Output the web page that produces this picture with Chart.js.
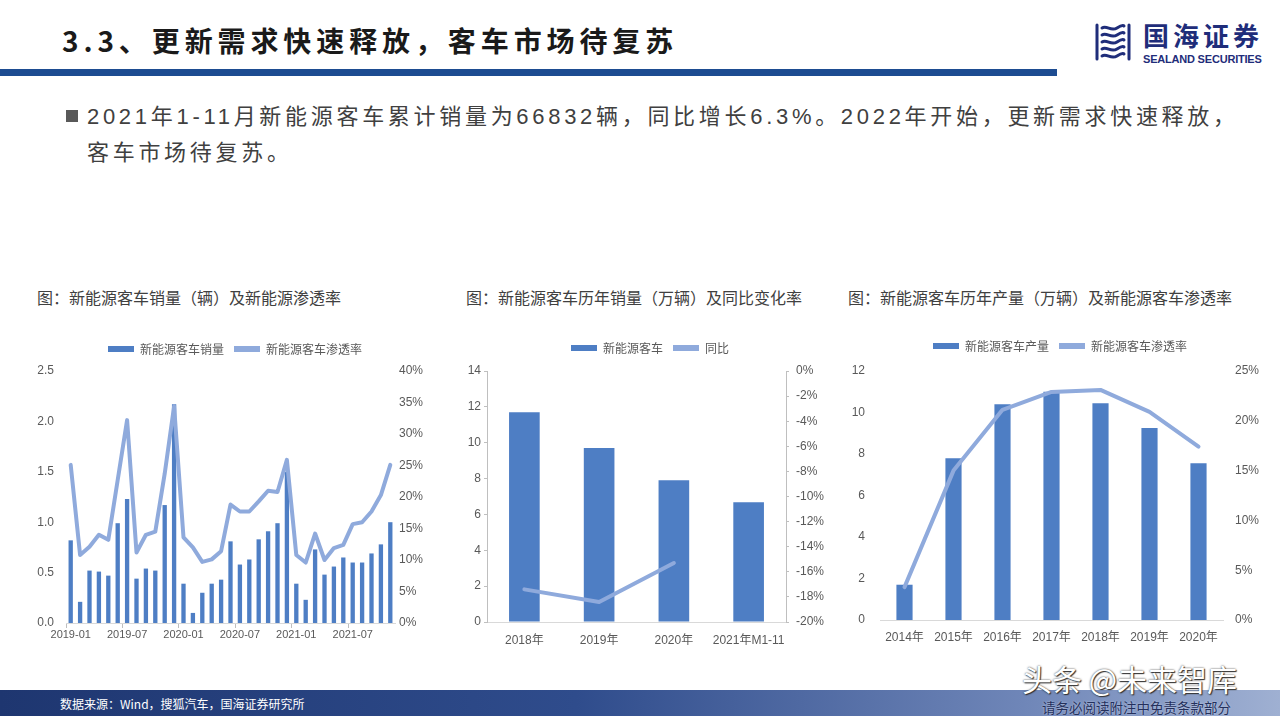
<!DOCTYPE html>
<html>
<head>
<meta charset="utf-8">
<script src="https://cdn.jsdelivr.net/npm/chart.js@4.4.0/dist/chart.umd.min.js"></script>
<style>
  body { margin:0; width:1280px; height:720px; position:relative; overflow:hidden; background:#fff;
         font-family:"Noto Sans CJK SC","Liberation Sans",sans-serif; }
  .abs { position:absolute; }
  .title { left:62px; top:22px; font-size:28px; line-height:36px; font-weight:bold; color:#1a1a1a; letter-spacing:4.9px; white-space:nowrap; }
  .topbar { left:0; top:69px; width:1057px; height:7px; background:#1D4C91; }
  .bullet { left:66px; top:110px; width:12px; height:12px; background:#595959; }
  .para { left:87px; top:99px; font-size:22px; line-height:36px; color:#404040; letter-spacing:3.7px; font-family:"Liberation Sans","Noto Sans CJK SC",sans-serif; white-space:nowrap; }
  .ctitle { top:286px; font-size:16px; line-height:22px; color:#404040; white-space:nowrap; }
  .box { position:absolute; }
  .footer { left:0; top:690px; width:1280px; height:26px; background:linear-gradient(to right,#1E3670 0%,#2F4C8C 45%,#6F86B8 80%,#9FB0D2 100%); }
  .src { left:60px; top:695px; font-size:12px; line-height:18px; color:#fff; white-space:nowrap; }
  .wm { left:1022px; top:660px; font-size:30px; line-height:36px; color:#fff; white-space:nowrap;
        text-shadow:0 0 2px #333, 1px 1px 1px #333; }
  .wm2 { left:1042px; top:698px; font-size:13.5px; line-height:18px; color:#24305c; white-space:nowrap; text-shadow:0 0 2px #c8d2ea; }
  .logo1 { left:1143px; top:19px; font-size:26px; line-height:32px; font-weight:bold; color:#1F2D7A; letter-spacing:4px; white-space:nowrap; }
  .logo2 { left:1143px; top:52px; font-size:11px; line-height:14px; font-weight:bold; color:#1F2D7A; letter-spacing:-0.2px; white-space:nowrap; font-family:"Liberation Sans",sans-serif; }
</style>
</head>
<body>
<div class="abs title">3.3、更新需求快速释放，客车市场待复苏</div>
<div class="abs topbar"></div>
<svg class="abs" style="left:1093px;top:22px" width="40" height="40" viewBox="0 0 40 40">
  <g fill="none" stroke="#1F2D7A" stroke-width="3" stroke-linecap="round">
    <path d="M4 3 V37"/>
    <path d="M36 3 V37"/>
    <path d="M9 6 C14 3 18 10 24 6 S31 4 31 4"/>
    <path d="M9 13 C14 10 18 17 24 13 S31 11 31 11"/>
    <path d="M9 20 C14 17 18 24 24 20 S31 18 31 18"/>
    <path d="M9 27 C14 24 18 31 24 27 S31 25 31 25"/>
    <path d="M9 34 C14 31 18 38 24 34 S31 32 31 32"/>
  </g>
</svg>
<div class="abs logo1">国海证券</div>
<div class="abs logo2">SEALAND SECURITIES</div>

<div class="abs bullet"></div>
<div class="abs para">2021年1-11月新能源客车累计销量为66832辆，同比增长6.3%。2022年开始，更新需求快速释放，<br>客车市场待复苏。</div>

<div class="abs ctitle" style="left:37px">图：新能源客车销量（辆）及新能源渗透率</div>
<div class="abs ctitle" style="left:466px">图：新能源客车历年销量（万辆）及同比变化率</div>
<div class="abs ctitle" style="left:848px">图：新能源客车历年产量（万辆）及新能源客车渗透率</div>

<div class="box" style="left:30px;top:333px;width:410px;height:315px"><canvas id="c1"></canvas></div>
<div class="box" style="left:450px;top:332px;width:400px;height:320px"><canvas id="c2"></canvas></div>
<div class="box" style="left:840px;top:330px;width:440px;height:320px"><canvas id="c3"></canvas></div>

<div class="abs footer"></div>
<div class="abs src">数据来源：Wind，搜狐汽车，国海证券研究所</div>
<div class="abs wm">头条 @未来智库</div>
<div class="abs wm2">请务必阅读附注中免责条款部分</div>

<script>
// chart 1: monthly
const monthLabels = ['2019-01','2019-02','2019-03','2019-04','2019-05','2019-06','2019-07','2019-08','2019-09','2019-10','2019-11','2019-12',
  '2020-01','2020-02','2020-03','2020-04','2020-05','2020-06','2020-07','2020-08','2020-09','2020-10','2020-11','2020-12',
  '2021-01','2021-02','2021-03','2021-04','2021-05','2021-06','2021-07','2021-08','2021-09','2021-10','2021-11'];
const monthSales = [0.82,0.21,0.52,0.51,0.47,0.99,1.23,0.44,0.54,0.52,1.17,2.17,
  0.39,0.10,0.30,0.39,0.43,0.81,0.58,0.63,0.83,0.91,0.99,1.50,
  0.39,0.23,0.73,0.48,0.56,0.65,0.60,0.60,0.69,0.78,1.00];
const monthRate = [25.1,10.8,12.1,14.0,13.2,22.7,32.2,11.2,14.0,14.5,23.7,34.4,
  13.6,12.0,9.7,10.1,11.4,18.8,17.7,17.7,19.3,21.0,20.8,25.9,
  10.8,9.6,14.2,10.0,11.9,12.4,15.7,16.0,17.7,20.3,25.1];

// chart 2: yearly sales + yoy
const yearLabels2 = ['2018年','2019年','2020年','2021年M1-11'];
const yearSales = [11.7, 9.7, 7.9, 6.68];
const yearYoY = [-17.4, -18.4, -15.3, null];

// chart 3: yearly output + penetration
const yearLabels3 = ['2014年','2015年','2016年','2017年','2018年','2019年','2020年'];
const yearOutput = [1.7, 7.8, 10.4, 11.0, 10.45, 9.25, 7.55];
const yearRate = [3.3, 15.0, 21.1, 22.9, 23.1, 20.9, 17.4];

const BAR = '#4E7EC4';
const LINE = '#8FAADC';
const TICK = '#595959';
const FONT = "'Liberation Sans','Noto Sans CJK SC',sans-serif";

// push the plot area down a little below the legend
const legendGap = {
  id: 'legendGap',
  beforeUpdate(chart, args, opts) {
    const lg = chart.legend;
    if (lg && !lg._gapDone) {
      const fit = lg.fit.bind(lg);
      lg.fit = function () { fit(); this.height += opts.gap || 0; };
      lg._gapDone = true;
    }
  }
};

function legendOpts(gap) {
  return {
    legend: {
      position: 'top',
      labels: {
        boxWidth: 26, boxHeight: 6, padding: 10, color: TICK,
        font: { size: 12, family: "'Noto Sans CJK SC',sans-serif" },
        sort: (a, b) => a.datasetIndex - b.datasetIndex,
        generateLabels(chart) {
          const items = Chart.defaults.plugins.legend.labels.generateLabels(chart);
          items.forEach(it => { it.lineWidth = 0; it.strokeStyle = 'rgba(0,0,0,0)'; });
          return items;
        }
      }
    },
    legendGap: { gap: gap },
    tooltip: { enabled: false }
  };
}

function fixW(w) { return s => { s.width = w; }; }
function fixH(h) { return s => { s.height = h; }; }

function datasets(barLabel, barData, lineLabel, lineData, barPct) {
  return [
    { type: 'bar', label: barLabel, data: barData, backgroundColor: BAR, yAxisID: 'y',
      categoryPercentage: 1, barPercentage: barPct, order: 2 },
    { type: 'line', label: lineLabel, data: lineData, borderColor: LINE, backgroundColor: LINE,
      borderWidth: 4, pointRadius: 0, tension: 0, yAxisID: 'y1', order: 1,
      borderJoinStyle: 'round', borderCapStyle: 'round' }
  ];
}

new Chart(document.getElementById('c1'), {
  data: { labels: monthLabels, datasets: datasets('新能源客车销量', monthSales, '新能源客车渗透率', monthRate, 0.46) },
  plugins: [legendGap],
  options: {
    responsive: true, maintainAspectRatio: false, animation: false,
    layout: { padding: 0 },
    plugins: legendOpts(6),
    scales: {
      x: {
        offset: true,
        grid: { display: true, drawOnChartArea: false, drawTicks: true, tickLength: 5,
                color: c => (c.index % 6 === 0 ? '#BFBFBF' : 'rgba(0,0,0,0)') },
        border: { display: true, color: '#D9D9D9' },
        ticks: { autoSkip: false, maxRotation: 0, padding: 0, color: TICK, font: { size: 11, family: FONT },
                 callback: (v, i) => (i % 6 === 0 ? monthLabels[i] : '') },
        afterFit: fixH(25)
      },
      y: {
        min: 0, max: 2.5,
        grid: { display: false, drawTicks: false },
        border: { display: false },
        ticks: { stepSize: 0.5, padding: 12, color: TICK, font: { size: 12, family: FONT },
                 callback: v => v.toFixed(1) },
        afterFit: fixW(36)
      },
      y1: {
        position: 'right', min: 0, max: 40,
        grid: { display: false, drawTicks: false },
        border: { display: false },
        ticks: { stepSize: 5, padding: 4, color: TICK, font: { size: 12, family: FONT },
                 callback: v => v + '%' },
        afterFit: fixW(45)
      }
    }
  }
});

new Chart(document.getElementById('c2'), {
  data: { labels: yearLabels2, datasets: datasets('新能源客车', yearSales, '同比', yearYoY, 0.41) },
  plugins: [legendGap],
  options: {
    responsive: true, maintainAspectRatio: false, animation: false,
    layout: { padding: 0 },
    plugins: legendOpts(7),
    scales: {
      x: {
        grid: { display: false, drawTicks: false },
        border: { display: true, color: '#D9D9D9' },
        ticks: { autoSkip: false, maxRotation: 0, minRotation: 0, padding: 11, color: TICK, font: { size: 12, family: FONT } },
        afterFit: fixH(30)
      },
      y: {
        min: 0, max: 14,
        grid: { display: true, drawOnChartArea: false, drawTicks: true, tickLength: 3, color: '#BFBFBF' },
        border: { display: true, color: '#BFBFBF' },
        ticks: { stepSize: 2, padding: 3, color: TICK, font: { size: 12, family: FONT } },
        afterFit: fixW(37)
      },
      y1: {
        position: 'right', min: -20, max: 0,
        grid: { display: true, drawOnChartArea: false, drawTicks: true, tickLength: 3, color: '#BFBFBF' },
        border: { display: true, color: '#BFBFBF' },
        ticks: { stepSize: 2, padding: 7, color: TICK, font: { size: 12, family: FONT },
                 callback: v => v + '%' },
        afterFit: fixW(64)
      }
    }
  }
});

new Chart(document.getElementById('c3'), {
  data: { labels: yearLabels3, datasets: datasets('新能源客车产量', yearOutput, '新能源客车渗透率', yearRate, 0.33) },
  plugins: [legendGap],
  options: {
    responsive: true, maintainAspectRatio: false, animation: false,
    layout: { padding: 0 },
    plugins: legendOpts(9),
    scales: {
      x: {
        grid: { display: false, drawTicks: false },
        border: { display: true, color: '#D9D9D9' },
        ticks: { autoSkip: false, maxRotation: 0, padding: 10, color: TICK, font: { size: 12, family: FONT } },
        afterFit: fixH(30)
      },
      y: {
        min: 0, max: 12,
        grid: { display: false, drawTicks: false },
        border: { display: false },
        ticks: { stepSize: 2, padding: 15, color: TICK, font: { size: 12, family: FONT } },
        afterFit: fixW(40)
      },
      y1: {
        position: 'right', min: 0, max: 25,
        grid: { display: false, drawTicks: false },
        border: { display: false },
        ticks: { stepSize: 5, padding: 12, color: TICK, font: { size: 12, family: FONT },
                 callback: v => v + '%' },
        afterFit: fixW(57)
      }
    }
  }
});
</script>
</body>
</html>
